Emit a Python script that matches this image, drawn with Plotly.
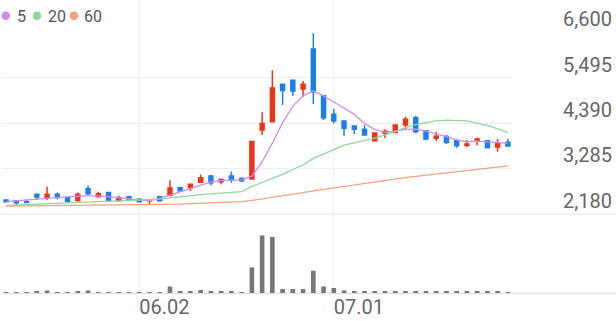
import plotly.graph_objects as go

W, H = 616, 321

dates = ["05.13", "05.16", "05.17", "05.18", "05.19", "05.20", "05.23", "05.24", "05.25", "05.26",
         "05.27", "05.30", "05.31", "06.02", "06.07", "06.08", "06.09", "06.10", "06.13", "06.14",
         "06.15", "06.16", "06.17", "06.20", "06.21", "06.22", "06.23", "06.24", "06.27", "06.28",
         "06.29", "06.30", "07.01", "07.04", "07.05", "07.06", "07.07", "07.08", "07.11", "07.12",
         "07.13", "07.14", "07.15", "07.18", "07.19", "07.20", "07.21", "07.22", "07.25", "07.26"]

open_ = [2520, 2500, 2480, 2660, 2580, 2660, 2580, 2510, 2790, 2600,
         2700, 2500, 2600, 2540, 2500, 2600, 2630, 2820, 2820, 2950,
         3100, 2960, 3100, 3040, 3030, 4220, 4420, 5330, 5430, 5215,
         6190, 5050, 4600, 4440, 4320, 4240, 3960, 4140, 4160, 4340,
         4520, 4200, 4020, 4060, 3960, 3850, 3950, 3960, 3810, 3920]
high = [2540, 2505, 2540, 2670, 2840, 2700, 2600, 2700, 2870, 2720,
        2710, 2620, 2620, 2560, 2540, 2620, 3000, 2840, 2910, 3140,
        3130, 3040, 3210, 3070, 3940, 4650, 5670, 5330, 5440, 5410,
        6570, 5060, 4730, 4450, 4330, 4340, 4160, 4240, 4350, 4540,
        4560, 4220, 4180, 4100, 3980, 3980, 4040, 3970, 4000, 4000]
low = [2460, 2400, 2455, 2520, 2520, 2540, 2460, 2480, 2640, 2600,
       2490, 2490, 2490, 2470, 2400, 2480, 2620, 2730, 2740, 2930,
       2880, 2900, 2940, 2950, 3020, 4100, 4420, 4830, 5050, 5030,
       4850, 4460, 4380, 4080, 4120, 4090, 3950, 4020, 4150, 4220,
       4140, 3980, 3960, 3880, 3790, 3800, 3850, 3780, 3690, 3820]
close = [2480, 2450, 2460, 2590, 2660, 2580, 2490, 2660, 2670, 2670,
         2500, 2580, 2520, 2480, 2520, 2500, 2810, 2740, 2900, 3060,
         2940, 3020, 3010, 2990, 3940, 4380, 5240, 5180, 5170, 5330,
         5150, 4520, 4440, 4260, 4240, 4100, 4150, 4190, 4340, 4480,
         4180, 4000, 4070, 3920, 3840, 3880, 4000, 3790, 3890, 3830]

ma5 = [2480, 2495, 2510, 2540, 2560, 2580, 2600, 2615, 2620, 2620,
       2600, 2570, 2545, 2520, 2505, 2560, 2640, 2720, 2800, 2880,
       2960, 2990, 3000, 3010, 3100, 3450, 3900, 4400, 4800, 5050,
       5170, 5050, 4900, 4750, 4600, 4380, 4230, 4165, 4190, 4235,
       4240, 4190, 4130, 4060, 3980, 3935, 3950, 3930, 3900, 3897]
ma20 = [2390, 2400, 2410, 2420, 2430, 2440, 2450, 2460, 2470, 2480,
        2490, 2495, 2505, 2515, 2525, 2540, 2570, 2600, 2620, 2650,
        2670, 2690, 2710, 2725, 2850, 2950, 3045, 3140, 3260, 3370,
        3530, 3640, 3730, 3850, 3910, 3960, 4020, 4100, 4180, 4280,
        4350, 4400, 4440, 4460, 4455, 4440, 4380, 4330, 4250, 4165]
ma60 = [2370, 2372, 2374, 2376, 2378, 2380, 2382, 2384, 2386, 2388,
        2390, 2392, 2394, 2396, 2398, 2402, 2410, 2420, 2430, 2440,
        2450, 2460, 2470, 2480, 2510, 2545, 2580, 2620, 2660, 2700,
        2740, 2778, 2816, 2854, 2892, 2930, 2968, 3006, 3035, 3064,
        3093, 3122, 3150, 3180, 3208, 3237, 3265, 3294, 3322, 3350]

volume = [3, 3, 5, 15, 25, 8, 8, 15, 25, 10,
          10, 10, 8, 8, 10, 10, 65, 12, 12, 30,
          15, 15, 20, 8, 256, 576, 560, 40, 40, 40,
          223, 66, 50, 26, 15, 15, 15, 15, 15, 15,
          15, 15, 15, 15, 15, 15, 15, 15, 20, 8]

price_ticks = [2180, 3285, 4390, 5495, 6600]
date_ticks = ["06.02", "07.01"]
ma_names = ["5", "20", "60"]
ma_colors = ["#cf8ded", "#8fd79c", "#f7a17a"]
UP, DOWN = "#ec3418", "#1c7fe9"
GRID = "#eeeeee"
FONT = "Roboto"


def px_x(p):
    return p / W


def px_y(p):
    return 1 - p / H


fig = go.Figure()

for name, vals, col in zip(ma_names, [ma5, ma20, ma60], ma_colors):
    fig.add_trace(go.Scatter(x=dates, y=vals, mode="lines", name=name,
                             line=dict(color=col, width=1.3), xaxis="x", yaxis="y",
                             hoverinfo="skip", showlegend=False))

fig.add_trace(go.Candlestick(
    x=dates, open=open_, high=high, low=low, close=close,
    increasing=dict(line=dict(color=UP, width=1.5), fillcolor=UP),
    decreasing=dict(line=dict(color=DOWN, width=1.5), fillcolor=DOWN),
    whiskerwidth=0, xaxis="x", yaxis="y", showlegend=False))

fig.add_trace(go.Bar(x=dates, y=volume, marker=dict(color="#777777", line=dict(width=0)),
                     width=0.45, xaxis="x2", yaxis="y2", showlegend=False))

x_dom = [px_x(1), px_x(513)]
fig.update_layout(
    width=W, height=H, autosize=False,
    margin=dict(l=0, r=0, t=0, b=0, pad=0),
    paper_bgcolor="white", plot_bgcolor="white",
    boxgap=0.45,
    font=dict(family=FONT, color="#666666"),
    xaxis=dict(domain=x_dom, anchor="y", type="category", range=[-0.5, 49.5],
               showgrid=False, showticklabels=False, zeroline=False, automargin=False,
               rangeslider=dict(visible=False), fixedrange=True),
    yaxis=dict(domain=[px_y(214.4), px_y(31.6)], anchor="x", side="right",
               range=[2170, 6610], tickvals=price_ticks,
               ticktext=[f"{v:,}" for v in price_ticks], automargin=False,
               showgrid=True, gridcolor=GRID, gridwidth=1, zeroline=False,
               tickfont=dict(size=20, color="#666666", family=FONT),
               ticklabelshift=-13, ticklabelstandoff=49, ticks=""),
    xaxis2=dict(domain=x_dom, anchor="y2", type="category", range=[-0.5, 49.5],
                showgrid=False, zeroline=False, tickvals=date_ticks, ticktext=date_ticks,
                ticklabelposition="outside right", ticks="", automargin=False,
                tickfont=dict(size=20, color="#666666", family=FONT)),
    yaxis2=dict(domain=[px_y(293), px_y(233)], anchor="x2", range=[0, 600],
                visible=False, automargin=False),
)

shapes = []
for d in date_ticks:
    i = dates.index(d)
    shapes.append(dict(type="line", xref="x", yref="paper", x0=i, x1=i,
                       y0=px_y(293), y1=1, line=dict(color=GRID, width=1), layer="below"))
shapes.append(dict(type="line", xref="paper", yref="paper", x0=0, x1=1,
                   y0=px_y(214), y1=px_y(214), line=dict(color=GRID, width=1.5), layer="below"))
shapes.append(dict(type="line", xref="paper", yref="paper", x0=px_x(2), x1=1,
                   y0=px_y(293.5), y1=px_y(293.5), line=dict(color="#e2e2e2", width=1.5),
                   layer="below"))

# legend: dots + labels
dot_cx = [5.8, 37, 74]
txt_x = [15, 46, 82]
for cx, tx, name, col in zip(dot_cx, txt_x, ma_names, ma_colors):
    r = 4.3
    shapes.append(dict(type="circle", xref="paper", yref="paper",
                       x0=px_x(cx - r), x1=px_x(cx + r), y0=px_y(15.7 + r), y1=px_y(15.7 - r),
                       fillcolor=col, line=dict(width=0)))
    fig.add_annotation(x=px_x(tx), y=px_y(16), xref="paper", yref="paper", text=name,
                       showarrow=False, xanchor="left", yanchor="middle",
                       font=dict(size=16, color="#555555", family=FONT))

fig.update_layout(shapes=shapes)
fig.write_html("out.html")
